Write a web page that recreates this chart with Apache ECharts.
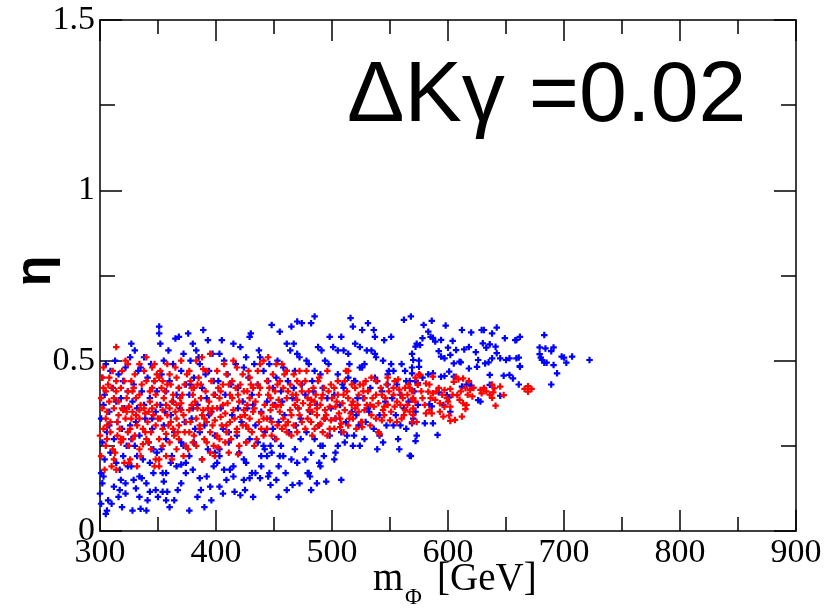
<!DOCTYPE html>
<html><head><meta charset="utf-8">
<script src="https://cdn.jsdelivr.net/npm/echarts@6/dist/echarts.min.js"></script>
<style>html,body{margin:0;padding:0;background:#fff}#c{width:837px;height:612px}</style>
</head><body><div id="c"></div>
<script>
const xTicks = [300, 400, 500, 600, 700, 800, 900];
const yTicks = [0, 0.5, 1, 1.5];
const titleText = 'ΔKγ =0.02';
const xName = ['m', 'Φ', '[GeV]'];
const yName = 'η';

const blue = [
[301,0.17],[303,0.16],[302,0.14],[301,0.08],[307,0.09],[310,0.08],[306,0.06],[318,0.15],[322,0.14],[317,0.12],[322,0.11],[316,0.10],[304,0.21],[309,0.23],[314,0.20],[320,0.22],[302,0.26],[306,0.29],[312,0.27],[319,0.30],[323,0.25],[301,0.33],[308,0.35],[315,0.32],[321,0.36],[304,0.40],[311,0.42],[318,0.39],[324,0.41],[302,0.45],[309,0.47],[316,0.46],[322,0.48],[305,0.49],[313,0.50],[320,0.44],[303,0.37],[317,0.18],[312,0.13],[324,0.19],[308,0.31],[314,0.38],[300,0.11],[305,0.05],[319,0.07],
[327,0.55],[330,0.53],[326,0.51],[338,0.51],[344,0.49],[333,0.47],[341,0.45],[329,0.43],[347,0.44],[336,0.41],[328,0.38],[343,0.39],[332,0.36],[348,0.35],[339,0.33],[326,0.31],[345,0.30],[334,0.28],[330,0.25],[342,0.26],[349,0.23],[337,0.21],[327,0.19],[343,0.20],[334,0.16],[336,0.155],[340,0.14],[329,0.15],[331,0.125],[343,0.115],[341,0.09],[348,0.12],[334,0.10],[328,0.06],[335,0.065],[340,0.06],[346,0.17],[332,0.22],[338,0.37],[345,0.33],[327,0.27],[349,0.41],[335,0.48],[331,0.32],[346,0.24],
[351,0.60],[351,0.58],[352,0.55],[365,0.565],[368,0.57],[359,0.53],[372,0.52],[355,0.50],[363,0.49],[370,0.47],[353,0.46],[360,0.44],[374,0.43],[357,0.41],[366,0.40],[352,0.37],[369,0.36],[361,0.34],[355,0.31],[373,0.32],[364,0.29],[357,0.27],[370,0.26],[353,0.24],[362,0.22],[361,0.20],[366,0.19],[370,0.195],[374,0.20],[354,0.17],[357,0.17],[355,0.145],[370,0.14],[350,0.10],[354,0.115],[358,0.115],[357,0.09],[364,0.09],[374,0.17],[367,0.12],[360,0.07],[372,0.25],[356,0.35],[368,0.42],[363,0.38],
[376,0.58],[389,0.59],[380,0.55],[393,0.56],[383,0.53],[397,0.52],[378,0.50],[386,0.49],[394,0.47],[381,0.45],[398,0.44],[388,0.42],[377,0.40],[392,0.39],[384,0.37],[396,0.35],[379,0.33],[390,0.31],[386,0.29],[399,0.28],[381,0.26],[393,0.24],[377,0.22],[388,0.21],[398,0.19],[386,0.155],[387,0.12],[377,0.06],[392,0.16],[395,0.13],[380,0.18],[384,0.10],[396,0.09],[390,0.07],[399,0.23],[382,0.30],[394,0.34],[378,0.43],[391,0.46],[385,0.51],[399,0.40],[380,0.36],
[403,0.52],[405,0.56],[415,0.55],[421,0.54],[417,0.49],[424,0.48],[410,0.46],[402,0.44],[419,0.42],[408,0.40],[423,0.38],[404,0.36],[414,0.34],[422,0.32],[406,0.30],[418,0.28],[411,0.26],[403,0.24],[420,0.23],[403,0.22],[415,0.19],[412,0.18],[407,0.18],[424,0.21],[424,0.15],[415,0.16],[403,0.13],[406,0.11],[416,0.115],[421,0.105],[425,0.12],[409,0.15],[401,0.20],[413,0.43],[407,0.50],[419,0.36],[411,0.29],
[429,0.57],[430,0.58],[448,0.605],[438,0.51],[433,0.49],[446,0.49],[441,0.47],[428,0.45],[436,0.43],[449,0.42],[431,0.40],[444,0.38],[427,0.36],[439,0.35],[447,0.33],[434,0.31],[442,0.29],[429,0.27],[441,0.25],[442,0.24],[447,0.25],[439,0.22],[444,0.22],[448,0.23],[439,0.19],[446,0.17],[431,0.17],[429,0.155],[434,0.17],[432,0.10],[438,0.155],[445,0.16],[447,0.135],[426,0.20],[436,0.26],[449,0.30],[432,0.37],[445,0.44],[437,0.53],[426,0.51],
[455,0.585],[465,0.60],[470,0.615],[474,0.61],[461,0.55],[467,0.55],[464,0.53],[470,0.52],[472,0.51],[453,0.50],[458,0.48],[468,0.47],[452,0.45],[462,0.44],[474,0.43],[456,0.41],[466,0.39],[451,0.37],[471,0.36],[459,0.34],[454,0.32],[469,0.31],[463,0.29],[451,0.27],[473,0.27],[456,0.25],[458,0.22],[455,0.22],[468,0.24],[454,0.19],[470,0.20],[461,0.12],[466,0.135],[472,0.14],[454,0.10],[460,0.17],[452,0.15],[465,0.21],[473,0.33],[457,0.38],[467,0.42],[461,0.47],
[485,0.63],[482,0.61],[498,0.57],[488,0.54],[494,0.50],[497,0.49],[480,0.49],[485,0.47],[490,0.46],[478,0.50],[483,0.44],[492,0.42],[477,0.40],[496,0.39],[487,0.37],[481,0.35],[494,0.33],[489,0.31],[478,0.29],[498,0.28],[485,0.27],[490,0.25],[492,0.25],[482,0.23],[477,0.21],[489,0.20],[490,0.19],[480,0.17],[481,0.16],[487,0.14],[495,0.145],[482,0.12],[479,0.17],[493,0.22],[499,0.36],[484,0.41],[491,0.53],
[501,0.54],[505,0.53],[508,0.57],[510,0.53],[514,0.52],[516,0.625],[518,0.60],[520,0.55],[524,0.54],[505,0.46],[514,0.45],[520,0.44],[510,0.42],[502,0.40],[522,0.39],[507,0.37],[517,0.35],[503,0.33],[512,0.32],[523,0.31],[508,0.29],[513,0.28],[519,0.28],[505,0.25],[503,0.23],[511,0.26],[518,0.25],[524,0.25],[508,0.15],[515,0.49],[524,0.48],[519,0.44],[502,0.21],[521,0.34],[509,0.43],
[526,0.59],[531,0.61],[536,0.59],[537,0.57],[528,0.49],[526,0.48],[530,0.53],[534,0.53],[537,0.52],[538,0.51],[545,0.56],[544,0.50],[537,0.45],[539,0.44],[549,0.47],[548,0.46],[533,0.42],[543,0.41],[527,0.39],[546,0.38],[531,0.36],[541,0.34],[529,0.32],[547,0.31],[536,0.30],[540,0.29],[541,0.28],[539,0.24],[528,0.27],[544,0.26],[532,0.35],[548,0.43],
[551,0.57],[562,0.62],[568,0.63],[551,0.49],[553,0.47],[560,0.49],[563,0.47],[569,0.52],[569,0.48],[564,0.44],[567,0.44],[572,0.44],[556,0.43],[571,0.41],[559,0.40],[566,0.38],[553,0.31],[559,0.31],[558,0.24],[568,0.22],[562,0.36],[574,0.37],[555,0.34],[570,0.33],[564,0.30],[573,0.28],[557,0.27],[552,0.39],[575,0.50],[573,0.55],
[579,0.605],[586,0.617],[598,0.603],[583,0.585],[578,0.566],[585,0.57],[587,0.567],[589,0.556],[594,0.561],[576,0.546],[592,0.528],[597,0.507],[594,0.512],[578,0.45],[583,0.46],[587,0.463],[594,0.453],[597,0.455],[575,0.482],[574,0.435],[592,0.407],[599,0.399],[584,0.372],[586,0.366],[596,0.37],[580,0.316],[587,0.316],[591,0.282],[572,0.541],[570,0.502],[569,0.463],[572,0.35],[569,0.316],[572,0.264],[567,0.221],
[600,0.538],[604,0.558],[607,0.531],[614,0.533],[618,0.54],[624,0.525],[612,0.59],[620,0.583],[602,0.517],[610,0.497],[611,0.495],[605,0.492],[618,0.477],[626,0.502],[625,0.482],[601,0.468],[605,0.453],[620,0.427],[612,0.424],[616,0.43],[626,0.384],[628,0.380],[602,0.35],[601,0.392],
[629,0.59],[631,0.59],[642,0.597],[638,0.58],[630,0.551],[633,0.538],[636,0.548],[641,0.541],[649,0.566],[642,0.522],[645,0.507],[638,0.507],[635,0.495],[632,0.492],[650,0.502],[636,0.458],[636,0.429],[648,0.456],[645,0.397],
[653,0.507],[656,0.448],[653,0.458],[659,0.561],[659,0.507],[662,0.482],[661,0.43],[662,0.57],[658,0.56],[683,0.575],[679,0.539],[684,0.536],[691,0.539],[689,0.528],[679,0.519],[680,0.509],[681,0.502],[683,0.494],[685,0.494],[691,0.487],[698,0.512],[700,0.509],[707,0.512],[702,0.494],[694,0.463],[722,0.502],[661,0.509],[662,0.484],[689,0.43]
];

const red = [
[302,0.45],[308,0.45],[314,0.44],[305,0.41],[310,0.42],[314,0.41],[318,0.42],[324,0.41],[302,0.36],[306,0.35],[312,0.36],[320,0.355],[325,0.365],[305,0.33],[315,0.32],[322,0.33],[305,0.25],[311,0.24],[318,0.26],[318,0.27],[320,0.27],[312,0.21],[321,0.20],[325,0.2],[310,0.19],[304,0.18],[314,0.18],[314,0.54],[322,0.50],[324,0.49],[301,0.39],[308,0.38],[316,0.38],[323,0.39],[303,0.30],[309,0.29],[317,0.30],[324,0.29],[306,0.27],[313,0.23],[301,0.22],[319,0.47],[311,0.47],[303,0.48],[316,0.34],[309,0.32],[300,0.28],[321,0.44],[307,0.43],
[334,0.49],[347,0.49],[345,0.48],[327,0.44],[340,0.44],[347,0.44],[334,0.40],[343,0.41],[348,0.40],[325,0.365],[334,0.355],[338,0.36],[345,0.36],[327,0.33],[334,0.33],[341,0.32],[350,0.33],[326,0.30],[337,0.30],[344,0.29],[328,0.27],[340,0.27],[325,0.25],[334,0.24],[344,0.24],[335,0.22],[348,0.21],[347,0.19],[330,0.46],[338,0.47],[329,0.42],[336,0.43],[343,0.38],[331,0.39],[349,0.37],[328,0.35],[339,0.345],[346,0.34],[332,0.31],[348,0.31],[330,0.28],[342,0.26],[337,0.255],[326,0.21],[332,0.19],[340,0.51],[349,0.46],
[351,0.45],[354,0.44],[360,0.46],[366,0.45],[370,0.50],[356,0.41],[363,0.40],[371,0.40],[354,0.355],[360,0.36],[370,0.355],[358,0.34],[366,0.33],[374,0.32],[354,0.30],[363,0.30],[351,0.27],[368,0.27],[360,0.26],[354,0.25],[366,0.24],[374,0.25],[357,0.22],[351,0.19],[351,0.21],[365,0.48],[352,0.47],[358,0.43],[368,0.42],[373,0.43],[355,0.39],[362,0.38],[370,0.375],[352,0.33],[361,0.32],[368,0.31],[357,0.285],[373,0.29],[364,0.28],[372,0.22],[362,0.21],[358,0.49],[375,0.46],[366,0.37],
[383,0.50],[389,0.475],[395,0.52],[388,0.51],[377,0.47],[392,0.47],[380,0.40],[387,0.39],[391,0.41],[398,0.40],[377,0.355],[384,0.36],[389,0.355],[395,0.345],[383,0.33],[388,0.34],[392,0.32],[399,0.325],[377,0.29],[386,0.30],[395,0.29],[380,0.26],[392,0.26],[398,0.25],[383,0.25],[395,0.23],[399,0.22],[378,0.44],[385,0.45],[396,0.44],[381,0.42],[394,0.38],[379,0.37],[397,0.36],[386,0.31],[381,0.28],[390,0.27],[376,0.24],[388,0.21],[384,0.43],
[401,0.47],[409,0.46],[418,0.48],[414,0.44],[421,0.43],[403,0.39],[412,0.40],[424,0.41],[401,0.36],[408,0.345],[415,0.355],[424,0.355],[405,0.31],[412,0.32],[418,0.30],[401,0.28],[409,0.29],[418,0.29],[403,0.27],[408,0.26],[420,0.25],[426,0.26],[406,0.43],[417,0.42],[402,0.42],[410,0.375],[420,0.38],[404,0.335],[421,0.335],[413,0.27],[423,0.31],[407,0.49],[415,0.50],[402,0.245],[411,0.23],[419,0.225],[423,0.46],[414,0.39],
[438,0.49],[441,0.50],[445,0.51],[429,0.45],[444,0.44],[436,0.43],[427,0.41],[429,0.39],[437,0.40],[447,0.39],[432,0.35],[439,0.345],[447,0.355],[429,0.33],[437,0.32],[444,0.33],[448,0.32],[431,0.29],[444,0.30],[426,0.26],[435,0.27],[441,0.28],[432,0.42],[449,0.46],[427,0.37],[442,0.37],[434,0.38],[446,0.42],[426,0.31],[439,0.30],[448,0.28],[433,0.25],[428,0.47],[436,0.47],
[452,0.49],[457,0.49],[461,0.47],[467,0.46],[472,0.47],[455,0.44],[464,0.43],[470,0.44],[454,0.385],[461,0.39],[470,0.385],[455,0.35],[464,0.355],[472,0.34],[458,0.33],[467,0.31],[461,0.29],[452,0.27],[470,0.29],[451,0.41],[458,0.42],[466,0.40],[474,0.41],[452,0.365],[468,0.37],[475,0.375],[453,0.31],[462,0.32],[474,0.32],[457,0.30],[465,0.28],[459,0.46],[473,0.43],
[480,0.41],[488,0.44],[496,0.47],[478,0.47],[482,0.385],[491,0.39],[500,0.39],[480,0.355],[487,0.36],[494,0.355],[482,0.32],[490,0.315],[499,0.325],[485,0.30],[492,0.29],[498,0.30],[479,0.33],[487,0.34],[495,0.34],[484,0.42],[493,0.42],[477,0.44],[486,0.40],[497,0.41],[481,0.37],[490,0.37],[498,0.365],[483,0.28],[496,0.28],[489,0.45],[477,0.30],
[505,0.44],[512,0.47],[514,0.47],[511,0.44],[520,0.42],[505,0.40],[514,0.39],[523,0.40],[503,0.365],[511,0.355],[520,0.36],[508,0.315],[514,0.31],[507,0.305],[502,0.30],[518,0.33],[525,0.32],[506,0.345],[516,0.345],[523,0.35],[509,0.375],[518,0.38],[502,0.42],[517,0.43],[524,0.43],[510,0.29],[521,0.30],[503,0.33],[513,0.41],
[527,0.43],[534,0.45],[538,0.44],[548,0.45],[528,0.39],[538,0.40],[546,0.39],[528,0.355],[536,0.365],[544,0.355],[526,0.32],[533,0.31],[543,0.325],[550,0.325],[526,0.305],[540,0.29],[541,0.285],[531,0.41],[542,0.42],[549,0.41],[530,0.37],[540,0.375],[548,0.37],[534,0.34],[545,0.34],[529,0.44],
[554,0.44],[557,0.445],[566,0.43],[553,0.40],[561,0.39],[569,0.385],[554,0.365],[563,0.355],[570,0.34],[560,0.33],[572,0.45],[574,0.43],[569,0.41],[570,0.39],[572,0.38],[570,0.36],[569,0.32],[573,0.32],[575,0.46],[558,0.415],[565,0.40],[551,0.35],[559,0.37],[567,0.35],[556,0.32],[563,0.42],
[574,0.429],[581,0.433],[584,0.43],[587,0.453],[583,0.409],[587,0.404],[590,0.41],[580,0.37],[584,0.355],[586,0.345],[593,0.375],[597,0.365],[597,0.414],[596,0.336],[578,0.39],[589,0.385],[593,0.35],[599,0.39],[576,0.458],[581,0.345],
[600,0.38],[602,0.365],[602,0.417],[607,0.453],[609,0.445],[613,0.448],[618,0.44],[615,0.419],[608,0.399],[610,0.385],[613,0.375],[616,0.37],[615,0.358],[605,0.438],[601,0.339],[602,0.323],[606,0.326],[612,0.336],[619,0.414],[621,0.395],
[628,0.414],[629,0.404],[638,0.43],[640,0.419],[639,0.407],[645,0.424],[648,0.399],[638,0.391],[641,0.368],[633,0.41],[666,0.417],[669,0.417],[672,0.417],[669,0.425],[669,0.409],
[303,0.42],[312,0.39],[319,0.36],[306,0.31],[315,0.28],[323,0.35],[328,0.41],[335,0.37],[342,0.35],[331,0.34],[345,0.42],[339,0.29],[353,0.42],[361,0.43],[369,0.39],[357,0.37],[365,0.35],[372,0.34],[359,0.31],[367,0.29],[379,0.42],[387,0.43],[393,0.36],[382,0.38],[390,0.33],[397,0.31],[378,0.32],[404,0.41],[411,0.43],[419,0.40],[406,0.37],[416,0.33],[425,0.34],[409,0.31],[430,0.43],[438,0.42],[445,0.40],[433,0.36],[441,0.33],[449,0.37],[428,0.30],[453,0.43],[462,0.41],[469,0.40],[456,0.37],[465,0.34],[471,0.36],[460,0.31],[479,0.39],[485,0.38],[492,0.40],[499,0.43],[483,0.35],[493,0.33],[488,0.31],[504,0.38],[510,0.40],[517,0.37],[522,0.37],[507,0.33],[515,0.33],[527,0.41],[535,0.39],[543,0.40],[533,0.37],[545,0.365],[538,0.33],[547,0.43],[553,0.42],[560,0.40],[567,0.42],[556,0.38],[565,0.37],[562,0.34],[577,0.41],[585,0.39],[592,0.42],[595,0.40],[604,0.40],[611,0.41],[617,0.40],[622,0.42],[631,0.42],[636,0.40]
];

const chart = echarts.init(document.getElementById('c'), null, {renderer: 'canvas'});
const plus = 'path://M3.3,0H6.7V3.3H10V6.7H6.7V10H3.3V6.7H0V3.3H3.3Z';
const lineCol = '#000';
function axisX(pos, showLabel) {
  return {
    type: 'value', position: pos, min: xTicks[0], max: xTicks[xTicks.length - 1],
    interval: xTicks[1] - xTicks[0],
    axisLine: {show: true, onZero: false, lineStyle: {color: lineCol, width: 1.5}},
    axisTick: {show: true, inside: true, length: 21, lineStyle: {color: lineCol, width: 1.5}},
    minorTick: {show: true, splitNumber: 2, length: 14, lineStyle: {color: lineCol, width: 1.5}},
    splitLine: {show: false}, minorSplitLine: {show: false},
    axisLabel: {show: showLabel, color: '#000', fontFamily: 'Liberation Serif', fontSize: 34, margin: 5}
  };
}
function axisY(pos, showLabel) {
  return {
    type: 'value', position: pos, min: yTicks[0], max: yTicks[yTicks.length - 1],
    interval: yTicks[1] - yTicks[0],
    axisLine: {show: true, onZero: false, lineStyle: {color: lineCol, width: 1.5}},
    axisTick: {show: true, inside: true, length: 22, lineStyle: {color: lineCol, width: 1.5}},
    minorTick: {show: true, splitNumber: 2, length: 15, lineStyle: {color: lineCol, width: 1.5}},
    splitLine: {show: false}, minorSplitLine: {show: false},
    axisLabel: {show: showLabel, color: '#000', fontFamily: 'Liberation Serif', fontSize: 34, margin: 5}
  };
}
const option = {
  animation: false,
  backgroundColor: '#fff',
  grid: {left: 100, right: 41, top: 20, bottom: 81, containLabel: false},
  xAxis: [axisX('bottom', true), axisX('top', false)],
  yAxis: [axisY('left', true), axisY('right', false)],
  graphic: [
    {type: 'text', left: 347, top: 54, style: {text: titleText, font: '86px "Liberation Sans"', fill: '#000'}},
    {type: 'text', x: 36, y: 271, rotation: Math.PI / 2,
      style: {text: yName, font: 'bold 50px "Liberation Sans"', fill: '#000', align: 'center', verticalAlign: 'middle'}},
    {type: 'text', x: 373, y: 580, style: {text: xName[0], font: '39px "Liberation Serif"', fill: '#000', align: 'left', verticalAlign: 'middle'}},
    {type: 'text', x: 405, y: 598, style: {text: xName[1], font: '23px "Liberation Serif"', fill: '#000', align: 'left', verticalAlign: 'middle'}},
    {type: 'text', x: 437, y: 580, style: {text: xName[2], font: '39px "Liberation Serif"', fill: '#000', align: 'left', verticalAlign: 'middle'}}
  ],
  series: [
    {type: 'scatter', data: blue, symbol: plus, symbolSize: 6.5, itemStyle: {color: '#0000ff', opacity: 1}, silent: true},
    {type: 'scatter', data: red, symbol: plus, symbolSize: 6.5, itemStyle: {color: '#ff0000', opacity: 1}, silent: true}
  ]
};
chart.setOption(option);
</script>
</body></html>
